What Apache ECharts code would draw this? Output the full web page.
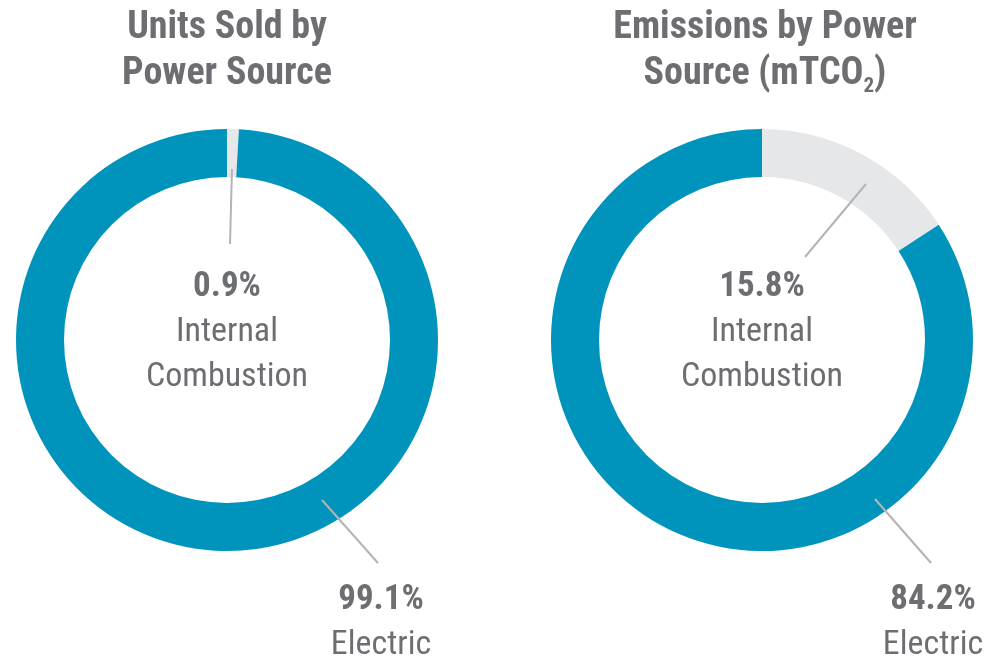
<!DOCTYPE html>
<html>
<head>
<meta charset="utf-8">
<title>Power Source</title>
<script src="https://cdn.jsdelivr.net/npm/echarts@6/dist/echarts.min.js"></script>
<style>
  html, body { margin: 0; padding: 0; background: #fff; }
  #main { width: 990px; height: 662px; }
</style>
</head>
<body>
<div id="main"></div>
<script>
// data
const categories = ['Internal Combustion', 'Electric']
const unitsShare = [0.9, 99.1]
const emissionsShare = [15.8, 84.2]

const FONT = '"Roboto Condensed", "Liberation Sans Narrow", "DejaVu Sans Condensed", Roboto, sans-serif'
const TEXT = '#6d6e71'
const BLUE = '#0094bc'
const GREY = '#e6e7e8'
const LINE = '#b4b4b4'

// where each label block and its leader line go (per pie, per category)
const spots = [
  [
    { x: 227, y: 265, line: [[232, 169], [230, 244]] },
    { x: 381, y: 578, line: [[322, 500], [378, 563]] },
  ],
  [
    { x: 762, y: 265, line: [[866, 184], [805, 257]] },
    { x: 933, y: 578, line: [[875, 499], [931, 563]] },
  ],
]

function labelText(params) {
  const words = params.dataIndex === 0 ? params.name.split(' ') : [params.name]
  let txt = '{pct|' + params.value.toFixed(1) + '%}'
  for (const w of words) {
    txt += '\n{name|' + w + '}'
  }
  return txt
}

function makePie(values, center, si) {
  return {
    type: 'pie',
    center: center,
    radius: [163, 211],
    startAngle: 90,
    clockwise: true,
    avoidLabelOverlap: false,
    silent: true,
    label: {
      show: true,
      position: 'outside',
      formatter: labelText,
      rich: {
        pct: { fontFamily: FONT, fontSize: 35, fontWeight: 'bold', color: TEXT, lineHeight: 45 },
        name: { fontFamily: FONT, fontSize: 34, color: TEXT, lineHeight: 45 },
      },
    },
    // leader lines are drawn on top as graphics (pie guide lines sit under the ring)
    labelLine: { show: false },
    labelLayout: function (params) {
      const spot = spots[si][params.dataIndex]
      return {
        x: spot.x,
        y: spot.y,
        align: 'center',
        verticalAlign: 'top',
      }
    },
    data: categories.map((c, i) => ({
      name: c,
      value: values[i],
      itemStyle: { color: i === 0 ? GREY : BLUE },
    })),
  }
}

const leaders = []
spots.forEach((pie) => {
  pie.forEach((s) => {
    leaders.push({
      type: 'polyline',
      z: 100,
      silent: true,
      shape: { points: s.line },
      style: { stroke: LINE, lineWidth: 2, fill: null },
    })
  })
})

const chart = echarts.init(document.getElementById('main'))
chart.setOption({
  backgroundColor: '#fff',
  animation: false,
  graphic: [
    {
      type: 'text',
      x: 227,
      y: 5,
      style: {
        text: 'Units Sold by\nPower Source',
        align: 'center',
        fontFamily: FONT,
        fontSize: 38,
        fontWeight: 'bold',
        lineHeight: 46,
        fill: TEXT,
      },
    },
    {
      type: 'text',
      x: 765,
      y: 5,
      style: {
        text: '{t|Emissions by Power}\n{t|Source (mTCO}{sub|2}{t|)}',
        align: 'center',
        rich: {
          t: { fontFamily: FONT, fontSize: 38, fontWeight: 'bold', lineHeight: 46, fill: TEXT, color: TEXT },
          sub: { fontFamily: FONT, fontSize: 21, fontWeight: 'bold', lineHeight: 21, verticalAlign: 'bottom', fill: TEXT, color: TEXT },
        },
      },
    },
  ].concat(leaders),
  series: [
    makePie(unitsShare, [227, 340], 0),
    makePie(emissionsShare, [762, 340], 1),
  ],
})
</script>
</body>
</html>
